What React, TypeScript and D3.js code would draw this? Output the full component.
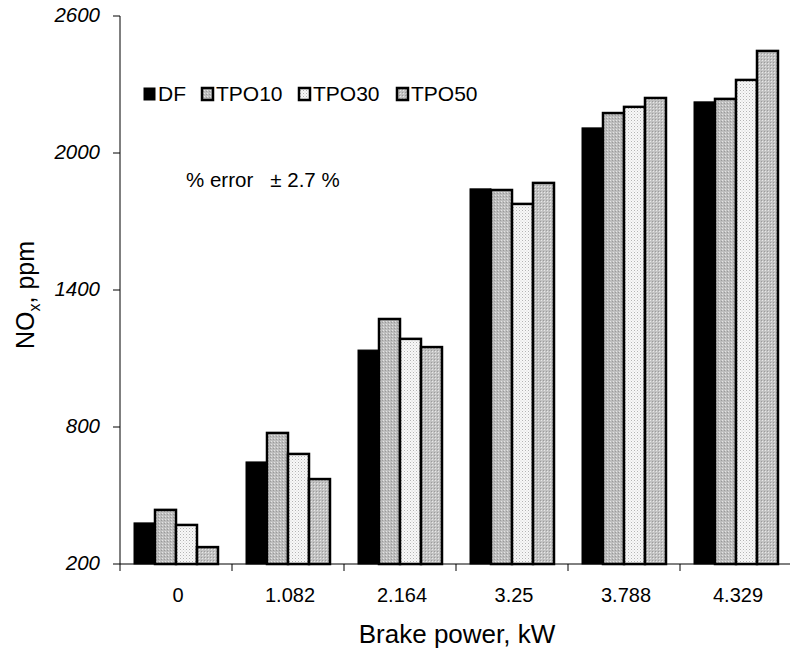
import React from 'react'
import * as d3 from 'd3'

const categories = ['0', '1.082', '2.164', '3.25', '3.788', '4.329']
const seriesNames = ['DF', 'TPO10', 'TPO30', 'TPO50']
const DF = [380, 647, 1137, 1843, 2110, 2224]
const TPO10 = [437, 774, 1273, 1838, 2175, 2237]
const TPO30 = [371, 682, 1186, 1777, 2202, 2320]
const TPO50 = [274, 572, 1150, 1869, 2241, 2447]
const yTicks = [200, 800, 1400, 2000, 2600]

const fills = ['#000', 'url(#pGray)', 'url(#pDots)', 'url(#pGray2)']
const legendX = [144, 202, 299, 397]

export default function App() {
  const W = 790
  const H = 649
  const left = 120
  const right = 792
  const top = 16
  const bottom = 564
  const series = [DF, TPO10, TPO30, TPO50]

  const x = d3.scaleBand().domain(categories).range([left, right]).padding(0)
  // inner bars: no gap between them, ~14px space on each side of a group
  const x1 = d3.scaleBand().domain(seriesNames).range([0, x.bandwidth()]).paddingInner(0).paddingOuter(0.667)
  const y = d3.scaleLinear().domain([200, 2600]).range([bottom, top])

  const font = 'Arial, "Liberation Sans", sans-serif'

  return (
    <svg width={W} height={H} style={{ position: 'absolute', left: 0, top: 0 }}>
      <defs>
        <pattern id="pGray" width="3" height="3" patternUnits="userSpaceOnUse">
          <rect width="3" height="3" fill="#bdbdbd" />
          <rect x="0" y="0" width="1" height="1" fill="#e4e4e4" />
          <rect x="2" y="1" width="1" height="1" fill="#9a9a9a" />
        </pattern>
        <pattern id="pGray2" width="3" height="3" patternUnits="userSpaceOnUse">
          <rect width="3" height="3" fill="#c2c2c2" />
          <rect x="1" y="0" width="1" height="1" fill="#e8e8e8" />
          <rect x="0" y="2" width="1" height="1" fill="#9c9c9c" />
        </pattern>
        <pattern id="pDots" width="3" height="3" patternUnits="userSpaceOnUse">
          <rect width="3" height="3" fill="#f8f8f8" />
          <rect x="0" y="0" width="1" height="1" fill="#b4b4b4" />
          <rect x="1.5" y="1.5" width="1" height="1" fill="#d0d0d0" />
        </pattern>
      </defs>
      <rect width={W} height={H} fill="#fff" />

      {/* bars */}
      {categories.map((c, i) => (
        <g key={c} transform={`translate(${x(c)},0)`}>
          {seriesNames.map((s, j) => (
            <rect
              key={s}
              x={x1(s)}
              y={y(series[j][i])}
              width={x1.bandwidth()}
              height={bottom - y(series[j][i])}
              fill={fills[j]}
              stroke="#000"
              strokeWidth={j === 0 ? 1 : 2.5}
            />
          ))}
        </g>
      ))}

      {/* y axis */}
      <line x1={left} x2={left} y1={top} y2={bottom} stroke="#000" strokeWidth={1} />
      {yTicks.map(t => (
        <g key={t}>
          <line x1={left - 7} x2={left} y1={y(t)} y2={y(t)} stroke="#000" />
          <text
            x={left - 20}
            y={y(t)}
            dy="0.3em"
            textAnchor="end"
            fontStyle="italic"
            fontSize={20.5}
            fontFamily={font}
          >
            {t}
          </text>
        </g>
      ))}

      {/* x axis */}
      <line x1={left} x2={W} y1={bottom} y2={bottom} stroke="#000" />
      {categories.map(c => (
        <g key={c}>
          <line x1={x(c)} x2={x(c)} y1={bottom} y2={bottom + 7} stroke="#000" />
          <text
            x={(x(c) as number) + x.bandwidth() / 2 + 2}
            y={602}
            textAnchor="middle"
            fontSize={20}
            fontFamily={font}
          >
            {c}
          </text>
        </g>
      ))}

      <text x={457} y={643} textAnchor="middle" fontSize={26} fontFamily={font}>
        Brake power, kW
      </text>
      <text transform="translate(34,295) rotate(-90)" textAnchor="middle" fontSize={25} fontFamily={font}>
        NO<tspan fontSize={16} dy={6}>x</tspan>
        <tspan dy={-6}>, ppm</tspan>
      </text>

      {/* legend */}
      {seriesNames.map((s, j) => (
        <g key={s}>
          <rect
            x={legendX[j]}
            y={88}
            width={11}
            height={12}
            fill={fills[j]}
            stroke="#000"
            strokeWidth={j === 0 ? 1 : 2.5}
          />
          <text x={legendX[j] + 14} y={101} fontSize={21} fontFamily={font}>
            {s}
          </text>
        </g>
      ))}

      <text x={186} y={187} fontSize={20.5} fontFamily={font} style={{ whiteSpace: 'pre' }}>
        {'% error   ± 2.7 %'}
      </text>
    </svg>
  )
}
